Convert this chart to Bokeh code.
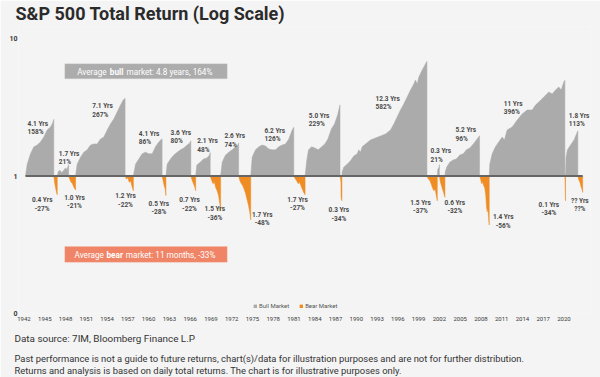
from bokeh.plotting import figure
from bokeh.models import (Range1d, FixedTicker, CustomJSTickFormatter, Label, Title,
                          BoxAnnotation, Legend, LegendItem)
from bokeh.core.properties import value
from bokeh.embed import file_html
from bokeh.resources import INLINE

# ---------------- data (growth of 1 within each market phase) ----------------
bull_years = [
    [1942.22, 1942.46, 1942.94, 1943.42, 1943.91, 1944.38, 1944.86, 1945.35, 1945.83, 1946.07, 1946.3],
    [1946.8, 1946.95, 1947.2, 1947.45, 1947.7, 1947.95, 1948.2, 1948.45],
    [1949.45, 1949.68, 1950.16, 1950.64, 1951.13, 1951.61, 1952.08, 1952.57, 1953.05, 1953.53, 1954.02,
     1954.49, 1954.97, 1955.46, 1955.94, 1956.33, 1956.6],
    [1957.8, 1958.11, 1958.58, 1959.07, 1959.55, 1960.03, 1960.52, 1960.99, 1961.47, 1961.82, 1961.95],
    [1962.5, 1962.68, 1963.16, 1963.64, 1964.13, 1964.61, 1965.08, 1965.57, 1965.95, 1966.1],
    [1966.8, 1966.96, 1967.45, 1967.93, 1968.41, 1968.8, 1968.9],
    [1970.4, 1970.63, 1971.11, 1971.58, 1972.07, 1972.55, 1972.88, 1973.0],
    [1974.75, 1974.96, 1975.44, 1975.92, 1976.4, 1976.88, 1977.36, 1977.85, 1978.33, 1978.8, 1979.3,
     1979.77, 1980.25, 1980.74, 1980.97],
    [1982.6, 1982.7, 1982.85, 1983.1, 1983.55, 1984.0, 1984.5, 1985.0, 1985.45, 1985.9, 1986.4,
     1986.85, 1987.3, 1987.65],
    [1987.92, 1987.96, 1988.19, 1988.68, 1989.16, 1989.64, 1990.13, 1990.36, 1990.6, 1990.85, 1991.33,
     1992.05, 1992.77, 1993.49, 1994.22, 1994.94, 1995.42, 1995.9, 1996.38, 1996.86, 1997.35, 1997.83,
     1998.3, 1998.55, 1998.79, 1999.03, 1999.52, 1999.99, 2000.2],
    [2001.7, 2001.75, 2001.85, 2001.95, 2002.0],
    [2002.8, 2002.85, 2003.05, 2003.5, 2004.0, 2004.45, 2004.95, 2005.45, 2005.9, 2006.4, 2006.9,
     2007.35, 2007.8],
    [2009.2, 2009.28, 2009.63, 2010.1, 2010.58, 2011.07, 2011.4, 2011.79, 2012.52, 2013.24, 2013.96,
     2014.68, 2015.41, 2015.88, 2016.36, 2017.09, 2017.81, 2018.3, 2018.77, 2019.25, 2019.6, 2019.97,
     2020.13],
    [2020.22, 2020.3, 2020.5, 2020.95, 2021.45, 2021.8, 2022.0],
]
bull_values = [
    [1.0, 1.22, 1.45, 1.63, 1.68, 1.77, 1.92, 2.16, 2.27, 2.39, 2.58],
    [1.0, 1.08, 1.10, 1.06, 1.09, 1.14, 1.12, 1.21],
    [1.0, 1.22, 1.37, 1.49, 1.55, 1.68, 1.71, 1.71, 1.86, 1.92, 2.16, 2.39, 2.60, 2.92, 3.28, 3.57, 3.67],
    [1.0, 1.22, 1.33, 1.45, 1.49, 1.45, 1.45, 1.63, 1.77, 1.84, 1.86],
    [1.0, 1.22, 1.33, 1.42, 1.49, 1.55, 1.60, 1.68, 1.74, 1.80],
    [1.0, 1.20, 1.26, 1.33, 1.35, 1.42, 1.48],
    [1.0, 1.26, 1.42, 1.49, 1.55, 1.63, 1.68, 1.74],
    [1.0, 1.37, 1.55, 1.63, 1.68, 1.65, 1.57, 1.55, 1.55, 1.63, 1.68, 1.71, 1.86, 2.16, 2.26],
    [1.0, 1.11, 1.31, 1.55, 1.63, 1.60, 1.55, 1.63, 1.71, 1.86, 2.20, 2.39, 2.78, 3.29],
    [1.0, 1.07, 1.16, 1.22, 1.29, 1.40, 1.45, 1.55, 1.49, 1.63, 1.71, 1.83, 1.89, 1.95, 2.02, 2.16,
     2.39, 2.69, 3.02, 3.34, 3.76, 4.22, 4.66, 4.99, 4.66, 5.24, 5.90, 6.52, 6.82],
    [1.0, 1.10, 1.15, 1.12, 1.21],
    [1.0, 1.07, 1.16, 1.26, 1.31, 1.33, 1.42, 1.45, 1.55, 1.60, 1.71, 1.83, 1.96],
    [1.0, 1.22, 1.45, 1.63, 1.77, 1.92, 1.83, 2.16, 2.27, 2.55, 2.83, 3.02, 3.02, 3.28, 3.45, 3.76,
     4.08, 3.95, 4.22, 4.44, 4.22, 4.82, 4.96],
    [1.0, 1.37, 1.55, 1.68, 1.83, 2.02, 2.13],
]
bear_years = [
    [1946.3, 1946.45, 1946.6, 1946.8],
    [1948.45, 1948.6, 1948.8, 1949.0, 1949.2, 1949.45],
    [1956.6, 1956.8, 1957.0, 1957.2, 1957.4, 1957.6, 1957.8],
    [1961.95, 1962.1, 1962.25, 1962.4, 1962.5],
    [1966.1, 1966.25, 1966.4, 1966.55, 1966.7, 1966.8],
    [1968.9, 1969.1, 1969.3, 1969.5, 1969.7, 1969.9, 1970.1, 1970.3, 1970.4],
    [1973.0, 1973.2, 1973.4, 1973.6, 1973.8, 1974.0, 1974.2, 1974.4, 1974.6, 1974.75],
    [1980.97, 1981.2, 1981.4, 1981.6, 1981.8, 1982.0, 1982.2, 1982.4, 1982.6],
    [1987.65, 1987.72, 1987.78, 1987.8, 1987.85, 1987.92],
    [2000.2, 2000.4, 2000.6, 2000.8, 2001.0, 2001.2, 2001.4, 2001.55, 2001.7],
    [2002.0, 2002.15, 2002.3, 2002.45, 2002.6, 2002.8],
    [2007.8, 2007.95, 2008.1, 2008.25, 2008.4, 2008.55, 2008.7, 2008.8, 2008.9, 2009.0, 2009.1, 2009.2],
    [2020.13, 2020.16, 2020.19, 2020.22],
    [2022.0, 2022.15, 2022.3, 2022.45, 2022.6, 2022.7],
]
bear_values = [
    [1.0, 0.88, 0.80, 0.73],
    [1.0, 0.95, 0.90, 0.88, 0.83, 0.79],
    [1.0, 0.95, 0.97, 0.90, 0.92, 0.84, 0.78],
    [1.0, 0.92, 0.85, 0.80, 0.72],
    [1.0, 0.94, 0.90, 0.86, 0.82, 0.78],
    [1.0, 0.93, 0.88, 0.90, 0.82, 0.78, 0.72, 0.62, 0.56],
    [1.0, 0.92, 0.88, 0.85, 0.80, 0.75, 0.68, 0.62, 0.55, 0.48],
    [1.0, 0.95, 0.92, 0.88, 0.90, 0.85, 0.80, 0.76, 0.73],
    [1.0, 0.95, 0.90, 0.70, 0.68, 0.66],
    [1.0, 0.95, 0.93, 0.88, 0.82, 0.78, 0.80, 0.72, 0.66],
    [1.0, 0.90, 0.85, 0.80, 0.76, 0.70],
    [1.0, 0.95, 0.88, 0.90, 0.85, 0.82, 0.72, 0.60, 0.55, 0.58, 0.50, 0.44],
    [1.0, 0.85, 0.75, 0.66],
    [1.0, 0.93, 0.90, 0.84, 0.80, 0.76],
]
bull_labels = ["4.1 Yrs\n158%", "1.7 Yrs\n21%", "7.1 Yrs\n267%", "4.1 Yrs\n86%", "3.6 Yrs\n80%",
               "2.1 Yrs\n48%", "2.6 Yrs\n74%", "6.2 Yrs\n126%", "5.0 Yrs\n229%", "12.3 Yrs\n582%",
               "0.3 Yrs\n21%", "5.2 Yrs\n96%", "11 Yrs\n396%", "1.8 Yrs\n113%"]
bear_labels = ["0.4 Yrs\n-27%", "1.0 Yrs\n-21%", "1.2 Yrs\n-22%", "0.5 Yrs\n-28%", "0.7 Yrs\n-22%",
               "1.5 Yrs\n-36%", "1.7 Yrs\n-48%", "1.7 Yrs\n-27%", "0.3 Yrs\n-34%", "1.5 Yrs\n-37%",
               "0.6 Yrs\n-32%", "1.4 Yrs\n-56%", "0.1 Yrs\n-34%", "?? Yrs\n??%"]
year_ticks = list(range(1942, 2021, 3))

# ---------------- layout (page pixel anchors for text) ----------------
bull_label_px = [27, 58.3, 91.7, 138.3, 170, 196.7, 224, 264, 308.3, 375, 430, 455, 503.3, 568.3]
bull_label_py = [119, 149, 101.5, 129, 128, 136.5, 131.5, 126, 111, 94, 146.5, 125.5, 99, 111]
bear_label_px = [41.7, 74, 125, 158.3, 189, 214.3, 261.7, 297, 338.3, 420, 454.3, 502.7, 548.3, 579.3]
bear_label_py = [195.5, 193, 191.5, 199, 195.5, 204.5, 210, 195, 205.5, 198, 198, 212.5, 200, 196]

F_LEFT, F_RIGHT, F_TOP, F_BOTTOM = 18, 590, 26, 313


def X(px):
    return 1942 + (px - 23.5) / 6.923


def Y(py):
    return 10 ** ((175.5 - py) / 137.5)


BG = "#f4f4f4"
BULL = "#ababab"
BEAR = "#ef8c23"
TXT = "#3a3a3a"
FONT = "Roboto"

p = figure(width=600, height=377, output_backend="svg", toolbar_location=None,
           x_range=Range1d(X(F_LEFT), X(F_RIGHT)), y_range=Range1d(Y(F_BOTTOM), Y(F_TOP)),
           y_axis_type="log",
           min_border_left=F_LEFT, min_border_right=600 - F_RIGHT,
           min_border_top=F_TOP, min_border_bottom=377 - F_BOTTOM,
           background_fill_color=BG, border_fill_color=BG, outline_line_color=None)
p.grid.visible = False

# title
p.title.text = "S&P 500 Total Return (Log Scale)"
p.title.text_font = FONT
p.title.text_font_size = "18px"
p.title.text_font_style = "bold"
p.title.text_color = "#2b2b2b"
p.title.align = "left"
p.title.vertical_align = "top"
p.title.offset = 15 - F_LEFT
p.title.standoff = 2

# axes
p.xaxis.ticker = FixedTicker(ticks=year_ticks)
p.yaxis.ticker = FixedTicker(ticks=[0.1, 1, 10])
p.yaxis.formatter = CustomJSTickFormatter(code="return tick < 0.5 ? '0' : String(Math.round(tick));")
for ax in (p.xaxis[0], p.yaxis[0]):
    ax.axis_line_color = None
    ax.major_tick_line_color = None
    ax.minor_tick_line_color = None
    ax.major_tick_out = 0
    ax.major_tick_in = 0
    ax.minor_tick_out = 0
    ax.minor_tick_in = 0
    ax.major_label_text_font = FONT
    ax.major_label_text_color = TXT
p.xaxis.major_label_text_font_size = "6px"
p.xaxis.major_label_standoff = 3
p.yaxis.major_label_text_font_size = "7px"
p.yaxis.major_label_text_font_style = "bold"
p.yaxis.major_label_standoff = 1

# areas
def polys(years, vals):
    xs, ys = [], []
    for yr, vl in zip(years, vals):
        xs.append(list(yr) + list(yr)[::-1])
        ys.append(list(vl) + [1.0] * len(yr))
    return xs, ys

bx, by = polys(bull_years, bull_values)
ex, ey = polys(bear_years, bear_values)
bull_r = p.patches(bx, by, fill_color=BULL, line_color=BULL, line_width=0.5)
bear_r = p.patches(ex, ey, fill_color=BEAR, line_color=BEAR, line_width=0.5)

# baseline
p.line([bull_years[0][0], bear_years[-1][-1]], [1, 1], line_color="#666666", line_width=2)

# period labels
p.text(x=[X(v) for v in bull_label_px], y=[Y(v) for v in bull_label_py], text=bull_labels,
       text_font=value(FONT), text_font_size="6.5px", text_font_style="bold", text_color="#4a4a4a",
       text_align="left", text_baseline="top", text_line_height=1.1)
p.text(x=[X(v) for v in bear_label_px], y=[Y(v) for v in bear_label_py], text=bear_labels,
       text_font=value(FONT), text_font_size="6.5px", text_font_style="bold", text_color="#4a4a4a",
       text_align="center", text_baseline="top", text_line_height=1.1)

# average boxes
p.add_layout(BoxAnnotation(left=X(64.3), right=X(226.7), top=Y(63.3), bottom=Y(78.3),
                           fill_color="#acacac", fill_alpha=1, line_color="#d2d2d2", line_width=1))
p.add_layout(BoxAnnotation(left=X(64.3), right=X(226.7), top=Y(246), bottom=Y(261.7),
                           fill_color="#ef8466", fill_alpha=1, line_color="#f5b8a5", line_width=1))

def lab(px, py, text, size, style="normal", color="white"):
    p.add_layout(Label(x=X(px), y=Y(py), text=text, text_font=FONT, text_font_size=size,
                       text_font_style=style, text_color=color, text_align="left",
                       text_baseline="middle"))

lab(76.7, 71.7, "Average", "8.2px")
lab(109.3, 71.7, "bull", "8.2px", "bold")
lab(126, 71.7, "market: 4.8 years, 164%", "8.2px")
lab(74, 254, "Average", "8.2px")
lab(106, 254, "bear", "8.2px", "bold")
lab(125.3, 254, "market: 11 months, -33%", "8.2px")

# footer
footer = [("Data source: 7IM, Bloomberg Finance L.P", "9.9px", 14),
          ("Past performance is not a guide to future returns, chart(s)/data for illustration "
           "purposes and are not for further distribution.\n"
           "Returns and analysis is based on daily total returns. The chart is for illustrative "
           "purposes only.", "9.4px", 0)]
for txt, size, so in footer:
    p.add_layout(Title(text=txt, text_font=FONT, text_font_size=size, text_font_style="normal",
                       text_color="#333333", align="left", vertical_align="bottom",
                       text_line_height=1.15, offset=14 - F_LEFT, standoff=so), "below")

# legend
legend = Legend(items=[LegendItem(label="Bull Market", renderers=[bull_r]),
                       LegendItem(label="Bear Market", renderers=[bear_r])],
                location=(235, 4), orientation="horizontal", padding=0, margin=0,
                glyph_width=4, glyph_height=4, label_height=6, label_width=0, label_standoff=2,
                spacing=10, label_text_font=FONT, label_text_font_size="6px",
                label_text_color="#555555", background_fill_alpha=0, border_line_color=None)
p.add_layout(legend)

open("out.html", "w").write(file_html(p, INLINE))
